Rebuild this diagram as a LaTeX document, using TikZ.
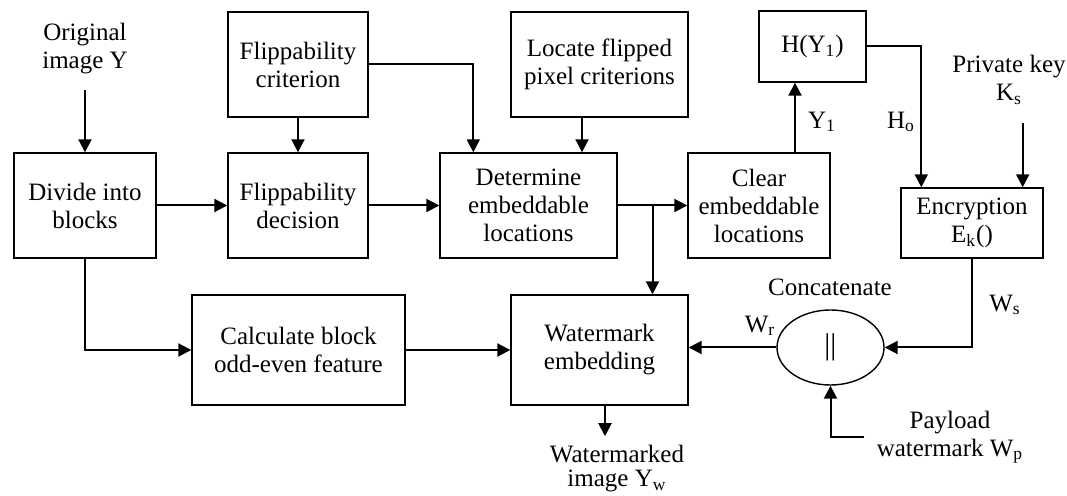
\documentclass[tikz,border=0pt]{standalone}
\usepackage{fontspec}
\setmainfont{Liberation Serif}
\usetikzlibrary{arrows.meta,shapes.geometric,positioning,calc}

\tikzset{
  blk/.style={draw, line width=0.7pt, align=center, inner sep=0pt, minimum height=52.5pt},
  lbl/.style={align=center, inner sep=1pt},
  arr/.style={-{Triangle[length=6.5pt,width=6.5pt]}, line width=1pt}
}

\begin{document}
\begin{tikzpicture}[x=0.5pt, y=-0.5pt, font=\fontsize{12.5}{14}\selectfont]
          \useasboundingbox (0,0) rectangle (1067,496);

          \node[blk, minimum width=71pt] (divide) at (85,205.5) {Divide into\\blocks};
          \node[blk, minimum width=70pt] (crit) at (298,64.5) {Flippability\\criterion};
          \node[blk, minimum width=70pt] (decis) at (298,205.5) {Flippability\\decision};
          \node[blk, minimum width=88.5pt] (locate) at (599.5,64.5) {Locate flipped\\pixel criterions};
          \node[blk, minimum width=88.5pt] (determ) at (528.5,205.5) {Determine\\embeddable\\locations};
          \node[blk, minimum width=71pt] (clear) at (759,205.5) {Clear\\embeddable\\locations};
          \node[blk, minimum width=53.5pt, minimum height=35.5pt] (hash) at (812.5,46.5) {H(Y\textsubscript{1})};
          \node[blk, minimum width=71pt, minimum height=35pt] (encr) at (972,223) {Encryption\\E\textsubscript{k}()};
          \node[blk, minimum width=106.5pt, minimum height=55pt] (calc) at (298.5,350) {Calculate block\\odd-even feature};
          \node[blk, minimum width=88.5pt, minimum height=55pt] (wm) at (599.5,350) {Watermark\\embedding};
          \node[draw, ellipse, line width=0.7pt, inner sep=0pt, minimum width=53.5pt, minimum height=37.5pt] (concat) at (830.5,347.5) {\fontsize{15}{15}\selectfont ||};

          \node[lbl, inner ysep=7.5pt] (orig) at (85,49) {Original\\image Y};
          \node[lbl, inner ysep=9pt] (key) at (1009,80) {Private key\\K\textsubscript{s}};
          \node[lbl, inner xsep=6pt] (pay) at (950,437) {Payload\\watermark W\textsubscript{p}};
          \node[lbl, inner ysep=4.5pt, font=\fontsize{12.5}{12}\selectfont] (ywm) at (617,469) {Watermarked\\image Y\textsubscript{w}};
          \node[lbl] (cat) at (830,287) {Concatenate};
          \node[lbl] (y1) at (822,122) {Y\textsubscript{1}};
          \node[lbl] (ho) at (901,122) {H\textsubscript{o}};
          \node[lbl] (ws) at (1005,305) {W\textsubscript{s}};
          \node[lbl] (wr) at (760,326) {W\textsubscript{r}};

          \coordinate (split) at ($(determ.east)!0.5!(clear.west)$);
          \coordinate (locout) at ([xshift=-8.75pt]locate.south);
          \coordinate (clout) at ([xshift=18pt]clear.north);
          \coordinate (keyin) at ([xshift=-10.5pt]encr.north east);
          \coordinate (wmout) at ([xshift=2.75pt]wm.south);

          \draw[arr] (orig) -- (divide);
          \draw[arr] (divide) -- (decis);
          \draw[arr] (crit) -- (decis);
          \draw[arr] (decis) -- (determ);
          \draw[arr] (crit.east) -| ([xshift=17pt]determ.north west);
          \draw[arr] (locout) -- (locout |- determ.north);
          \draw[arr] (determ) -- (clear);
          \draw[arr] (split) -- (split |- wm.north);
          \draw[arr] (clout) -- (clout |- hash.south);
          \draw[arr] (hash.east) -| ([xshift=10.5pt]encr.north west);
          \draw[arr] (keyin |- key.south) -- (keyin);
          \draw[arr] (encr.south) |- (concat.east);
          \draw[arr] (concat.west) -- (concat.west -| wm.east);
          \draw[arr] (pay.west) -| (concat.south);
          \draw[arr] (divide.south) |- (calc.west);
          \draw[arr] (calc) -- (wm);
          \draw[arr] (wmout) -- (wmout |- ywm.north);
        \end{tikzpicture}
\end{document}
